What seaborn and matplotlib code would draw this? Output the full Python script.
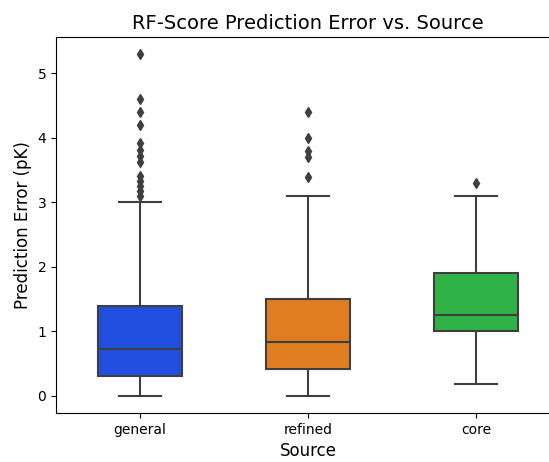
import matplotlib
matplotlib.use("Agg")
import matplotlib.pyplot as plt
import pandas as pd
import seaborn as sns

# Per-source prediction errors (pK units)
general_err = [
    0.00,
    0.02, 0.04, 0.07, 0.09, 0.11, 0.13, 0.15, 0.18, 0.20, 0.22, 0.25, 0.27, 0.29,
    0.31,
    0.34, 0.37, 0.40, 0.43, 0.46, 0.49, 0.52, 0.55, 0.58, 0.61, 0.64, 0.67, 0.70,
    0.73,
    0.77, 0.82, 0.87, 0.92, 0.97, 1.02, 1.07, 1.12, 1.17, 1.22, 1.27, 1.32, 1.36,
    1.40,
    3.00,
    3.10, 3.18, 3.26, 3.33, 3.41, 3.62, 3.72, 3.82, 3.92, 4.20, 4.40, 4.60, 5.30,
]
refined_err = [
    0.00,
    0.07, 0.14, 0.21, 0.28, 0.35,
    0.41,
    0.48, 0.55, 0.62, 0.70, 0.77,
    0.84,
    0.95, 1.06, 1.17, 1.28, 1.39,
    1.50,
    3.10,
    3.40, 3.70, 3.80, 4.00, 4.40,
]
core_err = [0.18, 0.60, 1.01, 1.13, 1.26, 1.55, 1.90, 3.10, 3.30]

sources = ["general", "refined", "core"]

df = pd.DataFrame({
    "Source": ["general"] * len(general_err)
    + ["refined"] * len(refined_err)
    + ["core"] * len(core_err),
    "Error": general_err + refined_err + core_err,
})

fig = plt.figure(figsize=(5.49, 4.62), dpi=100)
ax = fig.add_axes([56 / 549, 49 / 462, 504 / 549, 376 / 462])

line_gray = "#3f3f3f"
sns.boxplot(
    data=df, x="Source", y="Error", hue="Source", order=sources,
    hue_order=sources, palette="bright", saturation=0.75, width=0.5,
    linecolor=line_gray, linewidth=1.5, legend=False, ax=ax,
    flierprops=dict(marker="d", markerfacecolor=line_gray,
                    markeredgecolor=line_gray, markersize=5),
)

ax.set_title("RF-Score Prediction Error vs. Source", fontsize=14)
ax.set_xlabel("Source", fontsize=12)
ax.set_ylabel("Prediction Error (pK)", fontsize=12)
ax.tick_params(labelsize=10)
ax.set_yticks([0, 1, 2, 3, 4, 5])

fig.savefig("out.png", dpi=100)
